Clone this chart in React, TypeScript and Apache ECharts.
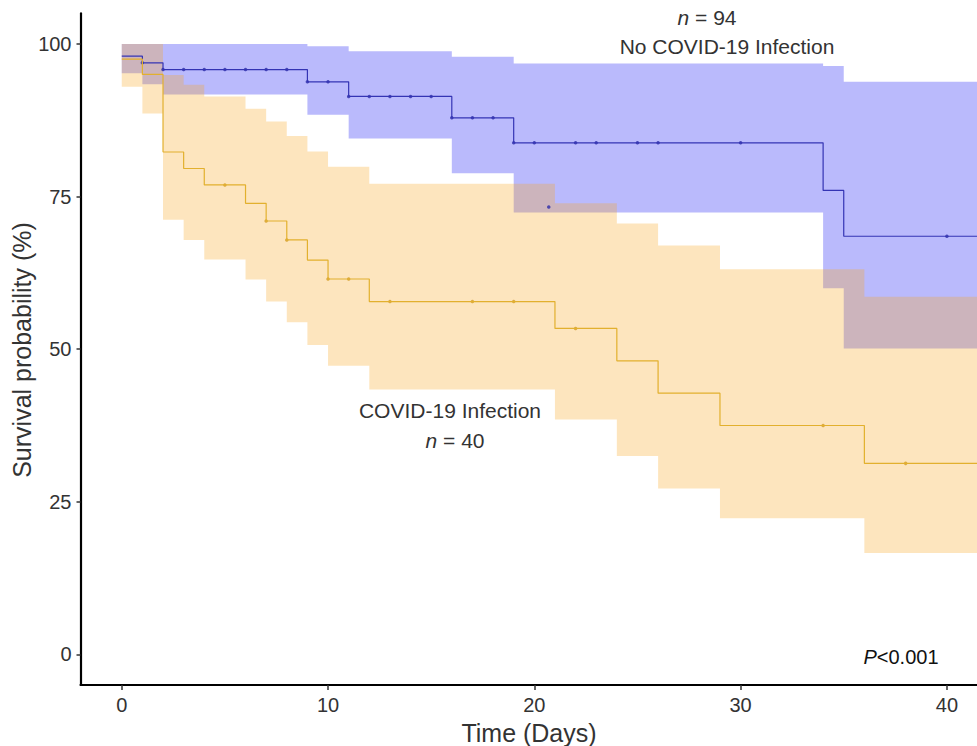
import React, { useEffect, useRef } from "react";
import * as echarts from "echarts";

// ---- axis ticks ----
const xTicks = [0, 10, 20, 30, 40];
const yTicks = [0, 25, 50, 75, 100];
const X_MIN = -2;
const X_MAX = 41.46;

// ---- No COVID-19 Infection (n = 94) ----
const noCovidTimes = [0, 1, 2, 9, 11, 16, 19, 34, 35, X_MAX];
const noCovidSurv = [98.0, 96.9, 95.8, 93.8, 91.4, 87.9, 83.8, 76.0, 68.5, 68.5];
const noCovidUpper = [100, 100, 100, 99.6, 98.8, 97.9, 96.8, 96.4, 93.8, 93.8];
const noCovidLower = [95.2, 93.4, 91.7, 88.4, 84.5, 78.8, 72.4, 60.0, 50.1, 50.1];
const noCovidCensorTimes = [1, 2, 3, 4, 5, 6, 7, 8, 9, 10, 11, 12, 13, 14, 15, 16, 17, 18, 19, 20, 20.7, 22, 23, 25, 26, 30, 40];
const noCovidCensorSurv = [96.9, 95.8, 95.8, 95.8, 95.8, 95.8, 95.8, 95.8, 93.8, 93.8, 91.4, 91.4, 91.4, 91.4, 91.4, 87.9, 87.9, 87.9, 83.8, 83.8, 73.3, 83.8, 83.8, 83.8, 83.8, 83.8, 68.5];

// ---- COVID-19 Infection (n = 40) ----
const covidTimes = [0, 1, 2, 3, 4, 6, 7, 8, 9, 10, 12, 21, 24, 26, 29, 36, X_MAX];
const covidSurv = [97.5, 95.0, 82.3, 79.6, 76.9, 73.9, 71.0, 67.9, 64.6, 61.5, 57.8, 53.4, 48.1, 42.8, 37.5, 31.3, 31.3];
const covidUpper = [100, 100, 94.9, 93.3, 91.4, 89.4, 87.3, 84.9, 82.4, 79.9, 77.1, 73.9, 70.6, 67.0, 63.1, 58.6, 58.6];
const covidLower = [93.0, 88.6, 71.2, 67.9, 64.7, 61.4, 57.8, 54.4, 50.7, 47.3, 43.4, 38.5, 32.5, 27.2, 22.3, 16.6, 16.6];
const covidCensorTimes = [5, 7, 8, 10, 11, 13, 17, 19, 22, 34, 38];
const covidCensorSurv = [76.9, 71.0, 67.9, 61.5, 61.5, 57.8, 57.8, 57.8, 53.4, 37.5, 31.3];

const FONT = "'Liberation Sans', Arial, sans-serif";
const TEXT = "#333333";
const BLUE_LINE = "#3434b4";
const ORANGE_LINE = "#e2b02e";

const zip = (a: number[], b: number[]) => a.map((t, i) => [t, b[i]]);

// confidence band drawn as one step-shaped polygon through the axis scales
function bandSeries(times: number[], upper: number[], lower: number[], fill: string) {
  return {
    type: "custom",
    silent: true,
    clip: true,
    data: [[times[0], lower[0]]],
    renderItem: (_params: any, api: any) => {
      const pts: number[][] = [];
      for (let i = 0; i < times.length - 1; i++) {
        pts.push(api.coord([times[i], upper[i]]));
        pts.push(api.coord([times[i + 1], upper[i]]));
      }
      for (let i = times.length - 2; i >= 0; i--) {
        pts.push(api.coord([times[i + 1], lower[i]]));
        pts.push(api.coord([times[i], lower[i]]));
      }
      return { type: "polygon", shape: { points: pts }, style: { fill, stroke: "none" } };
    },
  };
}

export default function App() {
  const ref = useRef<HTMLDivElement>(null);
  useEffect(() => {
    if (!ref.current) return;
    const chart = echarts.init(ref.current, undefined, { renderer: "svg" });
    chart.setOption({
      animation: false,
      grid: { left: 80.5, right: 0, top: 13.4, bottom: 61 },
      xAxis: {
        type: "value",
        min: X_MIN,
        max: X_MAX,
        splitLine: { show: false },
        axisLine: { onZero: false, lineStyle: { color: "#000", width: 2.2 } },
        axisTick: { customValues: xTicks, length: 5, lineStyle: { color: "#333", width: 1.5 } },
        axisLabel: { customValues: xTicks, margin: 10, fontSize: 20, fontFamily: FONT, color: TEXT },
      },
      yAxis: {
        type: "value",
        min: -5,
        max: 105,
        splitLine: { show: false },
        axisLine: { onZero: false, lineStyle: { color: "#000", width: 2.2 } },
        axisTick: { customValues: yTicks, length: 4, lineStyle: { color: "#333", width: 1.5 } },
        axisLabel: { customValues: yTicks, margin: 9, fontSize: 20, fontFamily: FONT, color: TEXT },
      },
      series: [
        bandSeries(noCovidTimes, noCovidUpper, noCovidLower, "#babafc"),
        bandSeries(covidTimes, covidUpper, covidLower, "rgba(248,167,31,0.29)"),
        {
          type: "line", step: "end", symbol: "none",
          data: zip(noCovidTimes, noCovidSurv),
          lineStyle: { color: BLUE_LINE, width: 1.2 },
        },
        {
          type: "line", step: "end", symbol: "none",
          data: zip(covidTimes, covidSurv),
          lineStyle: { color: ORANGE_LINE, width: 1.2 },
        },
        {
          type: "scatter", symbol: "circle", symbolSize: 3.5,
          data: zip(noCovidCensorTimes, noCovidCensorSurv),
          itemStyle: { color: "#2a2aa8" },
        },
        {
          type: "scatter", symbol: "circle", symbolSize: 3.5,
          data: zip(covidCensorTimes, covidCensorSurv),
          itemStyle: { color: "#d39c22" },
        },
      ],
      graphic: [
        {
          type: "text", x: 707, y: 17,
          style: {
            text: "{i|n} = 94", rich: { i: { fontStyle: "italic", fontSize: 21, fontFamily: FONT, fill: TEXT } },
            fontSize: 21, fontFamily: FONT, fill: TEXT, align: "center", verticalAlign: "middle",
          },
        },
        {
          type: "text", x: 727, y: 46,
          style: { text: "No COVID-19 Infection", fontSize: 21, fontFamily: FONT, fill: TEXT, align: "center", verticalAlign: "middle" },
        },
        {
          type: "text", x: 450, y: 410,
          style: { text: "COVID-19 Infection", fontSize: 21, fontFamily: FONT, fill: TEXT, align: "center", verticalAlign: "middle" },
        },
        {
          type: "text", x: 455, y: 440,
          style: {
            text: "{i|n} = 40", rich: { i: { fontStyle: "italic", fontSize: 21, fontFamily: FONT, fill: TEXT } },
            fontSize: 21, fontFamily: FONT, fill: TEXT, align: "center", verticalAlign: "middle",
          },
        },
        {
          type: "text", x: 901, y: 657,
          style: {
            text: "{i|P}<0.001", rich: { i: { fontStyle: "italic", fontSize: 20, fontFamily: FONT, fill: "#111" } },
            fontSize: 20, fontFamily: FONT, fill: "#111", align: "center", verticalAlign: "middle",
          },
        },
        {
          type: "text", x: 529, y: 733,
          style: { text: "Time (Days)", fontSize: 25, fontFamily: FONT, fill: TEXT, align: "center", verticalAlign: "middle" },
        },
        {
          type: "text", x: 22, y: 350, rotation: Math.PI / 2,
          style: { text: "Survival probability (%)", fontSize: 25, fontFamily: FONT, fill: TEXT, align: "center", verticalAlign: "middle" },
        },
      ],
    });
    return () => chart.dispose();
  }, []);
  return <div ref={ref} style={{ position: "absolute", left: 0, top: 0, width: 977, height: 746 }} />;
}
